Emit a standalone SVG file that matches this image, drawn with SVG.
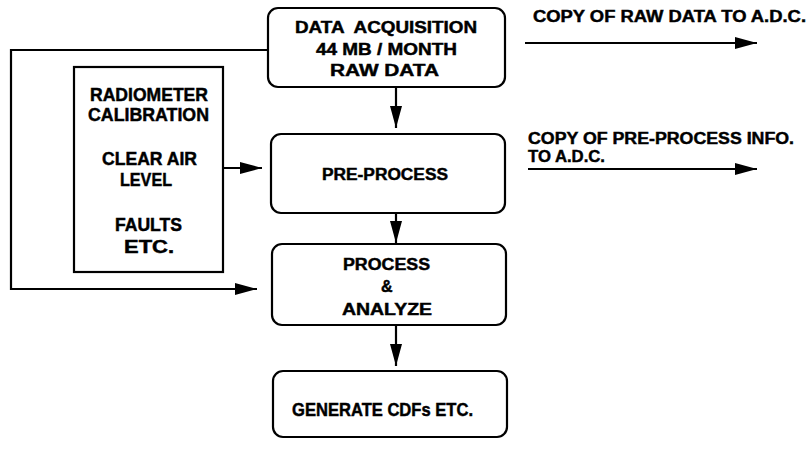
<svg xmlns="http://www.w3.org/2000/svg" width="810" height="450" viewBox="0 0 810 450">
<defs>
<marker id="ah" markerUnits="userSpaceOnUse" markerWidth="24" markerHeight="14" refX="22" refY="6" orient="auto">
<path d="M0,0 L22,6 L0,12 z" fill="#000"/>
</marker>
<style>
.box{fill:#fff;stroke:#000;stroke-width:2.2}
.t{font-family:"Liberation Sans",Arial,sans-serif;font-weight:bold;fill:#000;stroke:#000;stroke-width:0.45;white-space:pre}
.c{font-size:16px}
.l{font-size:17.5px}
.conn{fill:none;stroke:#000;stroke-width:2.2}
.ar{marker-end:url(#ah)}
</style>
</defs>
<rect width="810" height="450" fill="#fff"/>
<g id="connectors">
<polyline class="conn ar" points="268,50 11,50 11,289 257,289"/>
<line class="conn ar" x1="223" y1="168" x2="262" y2="168"/>
<line class="conn ar" x1="396" y1="87" x2="396" y2="128"/>
<line class="conn ar" x1="396" y1="213" x2="396" y2="243"/>
<line class="conn ar" x1="396" y1="325" x2="396" y2="366"/>
<line class="conn ar" x1="525" y1="43" x2="757" y2="43"/>
<line class="conn ar" x1="528" y1="169" x2="757" y2="169"/>
</g>
<g id="data-acquisition">
<rect class="box" x="268" y="8" width="237" height="79" rx="10"/>
<text class="t c" x="295" y="33" textLength="182" lengthAdjust="spacingAndGlyphs">DATA  ACQUISITION</text>
<text class="t c" x="316" y="55" textLength="141" lengthAdjust="spacingAndGlyphs">44 MB / MONTH</text>
<text class="t c" x="330" y="76" textLength="109" lengthAdjust="spacingAndGlyphs">RAW DATA</text>
</g>
<g id="radiometer">
<rect class="box" x="74" y="67" width="149" height="205"/>
<text class="t l" x="90" y="101" textLength="118" lengthAdjust="spacingAndGlyphs">RADIOMETER</text>
<text class="t l" x="88" y="121" textLength="121" lengthAdjust="spacingAndGlyphs">CALIBRATION</text>
<text class="t l" x="102" y="165" textLength="95" lengthAdjust="spacingAndGlyphs">CLEAR AIR</text>
<text class="t l" x="120" y="186" textLength="52" lengthAdjust="spacingAndGlyphs">LEVEL</text>
<text class="t l" x="115" y="231" textLength="67" lengthAdjust="spacingAndGlyphs">FAULTS</text>
<text class="t l" x="124" y="253" textLength="50" lengthAdjust="spacingAndGlyphs">ETC.</text>
</g>
<g id="pre-process">
<rect class="box" x="271" y="134" width="234" height="79" rx="10"/>
<text class="t c" x="322" y="180" textLength="126" lengthAdjust="spacingAndGlyphs">PRE-PROCESS</text>
</g>
<g id="process">
<rect class="box" x="272" y="244" width="234" height="81" rx="10"/>
<text class="t c" x="343" y="270" textLength="87" lengthAdjust="spacingAndGlyphs">PROCESS</text>
<text class="t c" x="381" y="292">&amp;</text>
<text class="t c" x="342" y="315" textLength="90" lengthAdjust="spacingAndGlyphs">ANALYZE</text>
</g>
<g id="generate">
<rect class="box" x="273" y="371" width="234" height="66" rx="10"/>
<text class="t l" x="292" y="416" textLength="181" lengthAdjust="spacingAndGlyphs">GENERATE CDFs ETC.</text>
</g>
<g id="labels">
<text class="t c" x="533" y="22" textLength="273" lengthAdjust="spacingAndGlyphs">COPY OF RAW DATA TO A.D.C.</text>
<text class="t c" x="528" y="144" textLength="266" lengthAdjust="spacingAndGlyphs">COPY OF PRE-PROCESS INFO.</text>
<text class="t c" x="528" y="162" textLength="77" lengthAdjust="spacingAndGlyphs">TO A.D.C.</text>
</g>
</svg>
